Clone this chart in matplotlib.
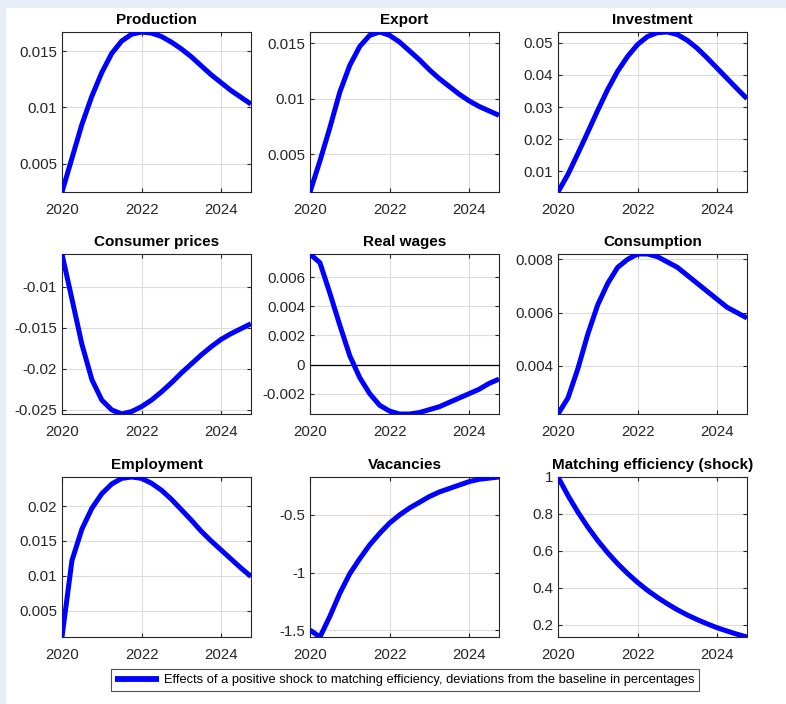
import matplotlib
matplotlib.use('Agg')
import matplotlib.pyplot as plt
from matplotlib.patches import Rectangle
from matplotlib.ticker import FuncFormatter

plt.rcParams['font.family'] = ['Liberation Sans', 'DejaVu Sans']

# quarterly responses, 2020Q1 .. 2024Q4
years = [2020 + 0.25 * i for i in range(20)]

production = [0.0025, 0.0055, 0.0085, 0.0110, 0.0131, 0.0148, 0.0159, 0.0165, 0.0167, 0.0166,
              0.0163, 0.0158, 0.0152, 0.0145, 0.0137, 0.0129, 0.0122, 0.0115, 0.0109, 0.0103]
export = [0.0016, 0.0044, 0.0074, 0.0106, 0.0130, 0.0147, 0.0157, 0.0160, 0.0157, 0.0151,
          0.0143, 0.0135, 0.0126, 0.0118, 0.0111, 0.0104, 0.0098, 0.0093, 0.0089, 0.0085]
investment = [0.0035, 0.0090, 0.0155, 0.0222, 0.0290, 0.0355, 0.0412, 0.0458, 0.0495, 0.0520,
              0.0532, 0.0534, 0.0526, 0.0508, 0.0483, 0.0453, 0.0421, 0.0389, 0.0357, 0.0326]
consumer_prices = [-0.0060, -0.0115, -0.0170, -0.0213, -0.0238, -0.0250, -0.0255, -0.0252, -0.0246, -0.0238,
                   -0.0228, -0.0217, -0.0205, -0.0194, -0.0183, -0.0173, -0.0164, -0.0157, -0.0151, -0.0145]
real_wages = [0.0076, 0.0070, 0.0049, 0.0027, 0.0006, -0.0009, -0.0020, -0.0028, -0.0032, -0.0034,
              -0.0034, -0.0033, -0.0031, -0.0029, -0.0026, -0.0023, -0.0020, -0.0017, -0.0013, -0.0010]
consumption = [0.0022, 0.0028, 0.0039, 0.0052, 0.0063, 0.0071, 0.0077, 0.0080, 0.0082, 0.0082,
               0.0081, 0.0079, 0.0077, 0.0074, 0.0071, 0.0068, 0.0065, 0.0062, 0.0060, 0.0058]
employment = [0.0012, 0.0122, 0.0167, 0.0197, 0.0218, 0.0232, 0.0240, 0.0242, 0.0240, 0.0233,
              0.0223, 0.0210, 0.0195, 0.0180, 0.0164, 0.0150, 0.0137, 0.0124, 0.0111, 0.0099]
vacancies = [-1.50, -1.56, -1.38, -1.18, -1.01, -0.88, -0.76, -0.66, -0.57, -0.50,
             -0.44, -0.39, -0.34, -0.30, -0.27, -0.24, -0.21, -0.19, -0.18, -0.17]
matching = [1.0, 0.9, 0.81, 0.729, 0.656, 0.590, 0.531, 0.478, 0.430, 0.387,
            0.349, 0.314, 0.282, 0.254, 0.229, 0.206, 0.185, 0.167, 0.150, 0.135]

titles = ['Production', 'Export', 'Investment',
          'Consumer prices', 'Real wages', 'Consumption',
          'Employment', 'Vacancies', 'Matching efficiency (shock)']
series = [production, export, investment,
          consumer_prices, real_wages, consumption,
          employment, vacancies, matching]
yticks = [[0.005, 0.01, 0.015], [0.005, 0.01, 0.015], [0.01, 0.02, 0.03, 0.04, 0.05],
          [-0.025, -0.02, -0.015, -0.01], [-0.002, 0, 0.002, 0.004, 0.006], [0.004, 0.006, 0.008],
          [0.005, 0.01, 0.015, 0.02], [-1.5, -1, -0.5], [0.2, 0.4, 0.6, 0.8, 1]]
xticks = [2020, 2022, 2024]
legend_text = 'Effects of a positive shock to matching efficiency, deviations from the baseline in percentages'

W, H = 786, 704
fig = plt.figure(figsize=(W / 100, H / 100), dpi=100)
fig.patch.set_facecolor('white')
strip = '#e6edf6'
fig.patches.append(Rectangle((0, 1 - 7 / H), 1, 7 / H, transform=fig.transFigure, color=strip, zorder=0))
fig.patches.append(Rectangle((0, 0), 5 / W, 1, transform=fig.transFigure, color=strip, zorder=0))

lefts = [62, 310, 558]
tops = [32, 254, 477]
aw, ah = 189, 160
dark = '#262626'

lines = []
for k in range(9):
    r, c = divmod(k, 3)
    ax = fig.add_axes([lefts[c] / W, 1 - (tops[r] + ah) / H, aw / W, ah / H])
    y = series[k]
    ln, = ax.plot(years, y, color='#0000ff', lw=3.6, solid_capstyle='butt',
                  solid_joinstyle='round', zorder=3)
    lines.append(ln)
    if k == 4:
        ax.axhline(0, color='black', lw=0.9, zorder=2)
    ax.set_xlim(years[0], years[-1])
    ax.set_ylim(min(y), max(y))
    ax.set_xticks(xticks)
    ax.set_yticks(yticks[k])
    ax.yaxis.set_major_formatter(FuncFormatter(lambda v, p: '%g' % v))
    ax.grid(True, color='#dcdcdc', lw=0.8, zorder=0)
    ax.tick_params(direction='in', top=True, right=True, length=3, width=0.8,
                   labelsize=10.8, colors=dark)
    ax.tick_params(axis='x', pad=8)
    ax.tick_params(axis='y', pad=3.5)
    for s in ax.spines.values():
        s.set_color(dark)
        s.set_linewidth(0.8)
    ax.set_title(titles[k], fontsize=11, fontweight='bold', pad=5.5)

leg = fig.legend([lines[0]], [legend_text], loc='center', bbox_to_anchor=(405 / W, 1 - 680 / H),
                 fontsize=9.3, frameon=True, fancybox=False, handlelength=3.4, borderpad=0.35,
                 handletextpad=0.4)
leg.get_lines()[0].set_linewidth(4.2)
leg.get_frame().set_edgecolor(dark)
leg.get_frame().set_linewidth(0.8)

fig.savefig('out.png', dpi=100)
